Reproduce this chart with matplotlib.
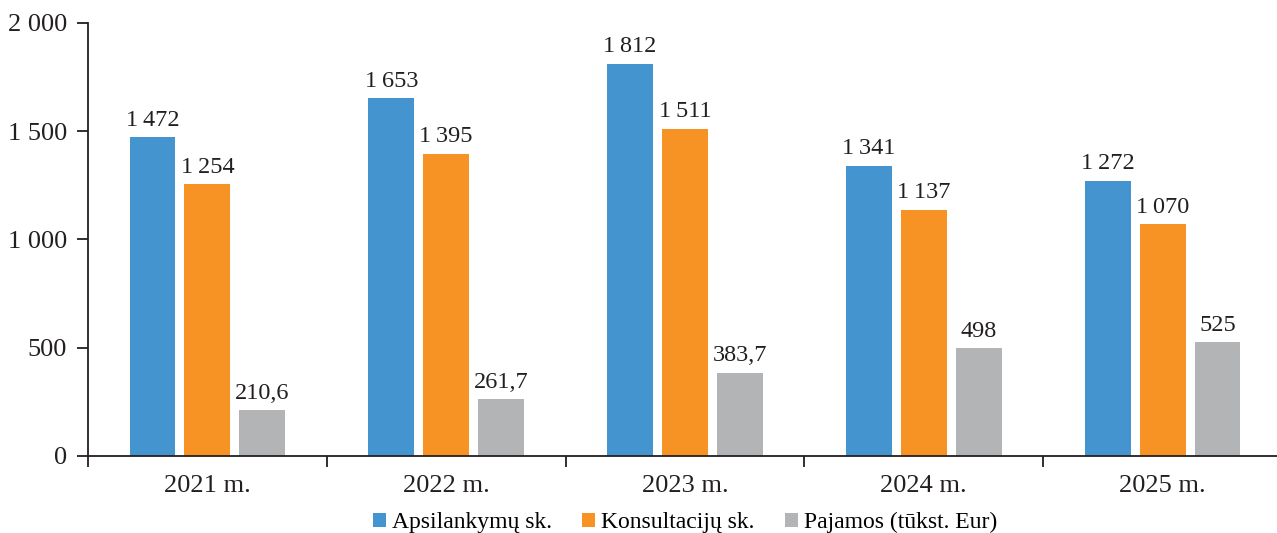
import numpy as np
import matplotlib.pyplot as plt
from matplotlib.ticker import FixedLocator, NullFormatter

years = ["2021 m.", "2022 m.", "2023 m.", "2024 m.", "2025 m."]
apsilankymai = [1472, 1653, 1812, 1341, 1272]
konsultacijos = [1254, 1395, 1511, 1137, 1070]
pajamos = [210.6, 261.7, 383.7, 498, 525]
series_names = ["Apsilankymų sk.", "Konsultacijų sk.", "Pajamos (tūkst. Eur)"]
colors = ["#4394CF", "#F69324", "#B3B4B6"]

plt.rcParams['font.family'] = ['Liberation Serif', 'DejaVu Serif']


def fmt(v, sep=" "):
    if float(v).is_integer():
        return f"{int(v):,}".replace(",", sep)
    return f"{v:.1f}".replace(".", ",")


fig = plt.figure(figsize=(12.77, 5.33), dpi=100)
ax = fig.add_axes([0.0689, 0.1445, 0.935, 0.8125])

x = np.arange(len(years))
w = 0.192
step = 0.23
for i, (vals, name, c) in enumerate(zip([apsilankymai, konsultacijos, pajamos], series_names, colors)):
    pos = x + (i - 1) * step
    ax.bar(pos, vals, width=w, color=c, label=name)
    for p, v in zip(pos, vals):
        ax.text(p, v + 30, fmt(v, "\u2009"), ha='center', va='bottom', fontsize=17.5, color='#231F20')

ax.set_xlim(-0.5, 4.5)
ax.set_ylim(0, 2000)
ax.set_yticks([0, 500, 1000, 1500, 2000])
ax.set_yticklabels([fmt(v) for v in [0, 500, 1000, 1500, 2000]], fontsize=19, color='#231F20')
ax.set_xticks(x)
ax.set_xticklabels(years, fontsize=19, color='#231F20')
ax.tick_params(axis='x', which='major', length=0, pad=14)
ax.xaxis.set_minor_locator(FixedLocator(np.arange(-0.5, 5.0, 1.0)))
ax.xaxis.set_minor_formatter(NullFormatter())
ax.tick_params(axis='x', which='minor', length=8, width=1.3, color='#231F20', direction='out')
ax.tick_params(axis='y', length=8, width=1.3, color='#231F20', direction='out', pad=7)

for s in ['top', 'right']:
    ax.spines[s].set_visible(False)
for s in ['left', 'bottom']:
    ax.spines[s].set_linewidth(1.3)
    ax.spines[s].set_color('#231F20')

leg = ax.legend(loc='lower center', bbox_to_anchor=(0.5, -0.2), ncol=3, frameon=False,
                fontsize=17, handlelength=0.55, handleheight=0.55, handletextpad=0.25,
                columnspacing=1.3, borderaxespad=0)

fig.savefig("out.png", dpi=100)
